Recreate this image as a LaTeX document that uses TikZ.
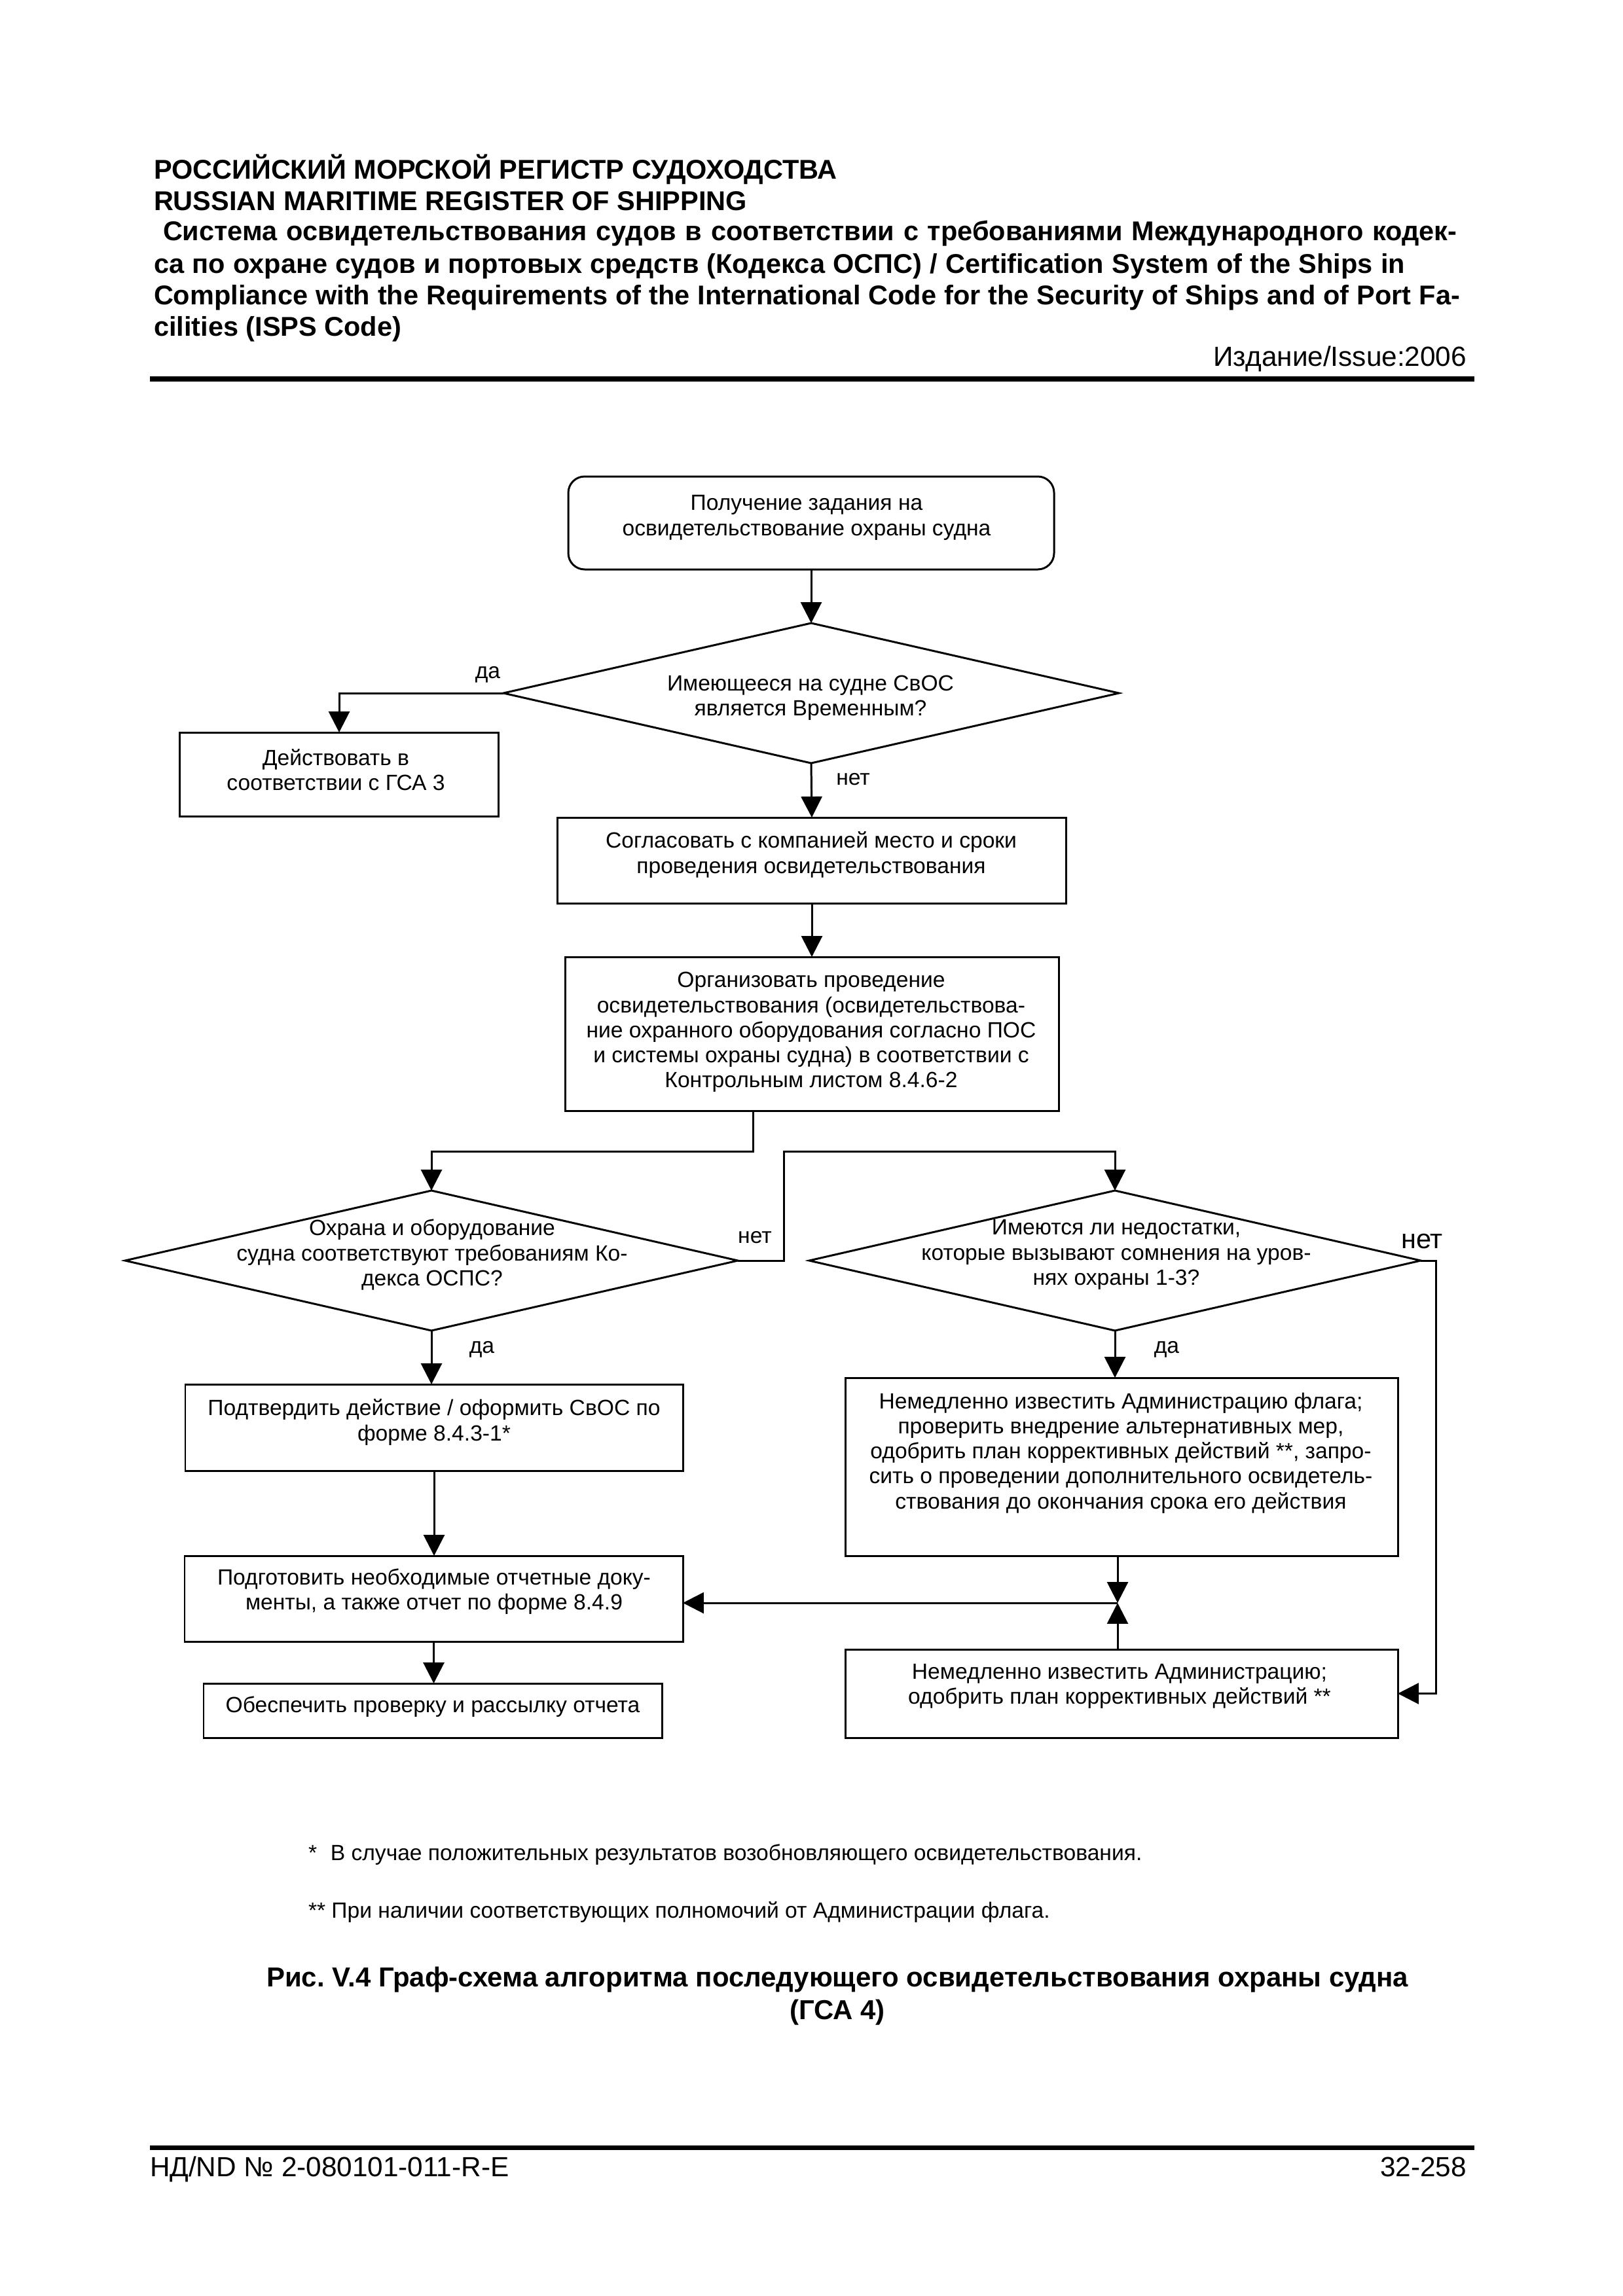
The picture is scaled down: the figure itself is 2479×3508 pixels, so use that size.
\documentclass[tikz,border=0pt]{standalone}
\usepackage{fontspec}
\setmainfont{Liberation Sans}
\usetikzlibrary{arrows.meta,shapes.geometric}
\def\px{0.0847mm}
\newcommand\pxw[1]{\dimexpr 0.0847mm*#1\relax}
\frenchspacing
\begin{document}
\begin{tikzpicture}[x=0.0847mm,y=-0.0847mm,
  every node/.style={inner sep=0pt, outer sep=0pt},
  bx/.style 2 args={draw, line width=0.72pt, rectangle, minimum width=#1*\px, minimum height=#2*\px},
  rbx/.style 2 args={bx={#1}{#2}, rounded corners=6pt},
  dia/.style 2 args={draw, line width=0.72pt, diamond, minimum width=#1*\px, minimum height=#2*\px},
  txt/.style={align=center, font=\fontsize{8.1pt}{9.2pt}\selectfont},
  lbl/.style={font=\fontsize{8.1pt}{9.2pt}\selectfont},
  biglbl/.style={font=\fontsize{10pt}{11pt}\selectfont},
  conn/.style={line width=0.72pt},
  arr/.style={conn, -{Triangle[length=7.7pt,width=7.7pt]}},
  hdr/.style={anchor=base west, font=\fontsize{10pt}{11.6pt}\selectfont\bfseries},
  pg/.style={font=\fontsize{10.2pt}{11.6pt}\selectfont},
  fn/.style={anchor=base west, font=\fontsize{8.1pt}{9.2pt}\selectfont},
  captxt/.style={anchor=base, font=\fontsize{10.1pt}{11.6pt}\selectfont\bfseries},
]
\useasboundingbox (0,0) rectangle (2479,3508);

% header
\node[hdr] (h1) at (235,273) {РОССИЙСКИЙ МОРСКОЙ РЕГИСТР СУДОХОДСТВА};
\node[hdr] (h2) at (235,321) {RUSSIAN MARITIME REGISTER OF SHIPPING};
\node[hdr] (h3) at (249,367) {\makebox[\pxw{1976}][s]{Система освидетельствования судов в соответствии с требованиями Международного кодек-}};
\node[hdr] (h4) at (235,417) {\makebox[\pxw{1911}][s]{са по охране судов и портовых средств (Кодекса ОСПС) / Certification System of the Ships in}};
\node[hdr] (h5) at (235,465) {\makebox[\pxw{1995}][s]{Compliance with the Requirements of the International Code for the Security of Ships and of Port Fa-}};
\node[hdr] (h6) at (235,513) {cilities (ISPS Code)};
\node[pg, anchor=base east] (iss) at (2240,559) {Издание/Issue:2006};
\coordinate (r1a) at (229,579);
\coordinate (r1b) at (2252,579);
\draw[line width=1.85pt] (r1a) -- (r1b);

% shapes
\node[rbx={742}{142}] (s) at (1239,799) {};
\node[dia={940}{214}] (d1) at (1239,1059) {};
\node[bx={487}{128}] (bA) at (518,1183) {};
\node[bx={777}{131}] (b2) at (1240,1314.5) {};
\node[bx={754}{235}] (b3) at (1240,1579.5) {};
\node[dia={936}{214}] (d2) at (659,1926) {};
\node[dia={934}{214}] (d3) at (1703,1926) {};
\node[bx={760}{132}] (bP) at (663,2181) {};
\node[bx={761}{131}] (b6) at (662.5,2442.5) {};
\node[bx={700}{83}] (b7) at (661,2613.5) {};
\node[bx={844}{272}] (b4) at (1713,2241) {};
\node[bx={844}{135}] (b5) at (1713,2587.5) {};

% texts
\node[txt] (ts) at (1232,791) {Получение задания на\\освидетельствование охраны судна};
\node[txt] (td1) at (1238,1066) {Имеющееся на судне СвОС\\является Временным?};
\node[txt] (tA) at (513,1176) {Действовать в\\соответствии с ГСА 3};
\node[txt] (t2) at (1239,1306) {Согласовать с компанией место и сроки\\проведения освидетельствования};
\node[txt] (t3) at (1239,1577) {Организовать проведение\\освидетельствования (освидетельствова-\\ние охранного оборудования согласно ПОС\\и системы охраны судна) в соответствии с\\Контрольным листом 8.4.6-2};
\node[txt] (td2) at (660,1917) {Охрана и оборудование\\судна соответствуют требованиям Ко-\\декса ОСПС?};
\node[txt] (td3) at (1705,1917) {Имеются ли недостатки,\\которые вызывают сомнения на уров-\\нях охраны 1-3?};
\node[txt] (tP) at (663,2173) {Подтвердить действие / оформить СвОС по\\форме 8.4.3-1*};
\node[txt] (t6) at (663,2432) {Подготовить необходимые отчетные доку-\\менты, а также отчет по форме 8.4.9};
\node[txt] (t7) at (661,2608) {Обеспечить проверку и рассылку отчета};
\node[txt] (t4) at (1712,2220) {Немедленно известить Администрацию флага;\\проверить внедрение альтернативных мер,\\одобрить план коррективных действий **, запро-\\сить о проведении дополнительного освидетель-\\ствования до окончания срока его действия};
\node[txt] (t5) at (1710,2576) {Немедленно известить Администрацию;\\одобрить план коррективных действий **};

% labels
\node[lbl] (l1) at (745,1031) {да};
\node[lbl] (l2) at (1303,1191) {нет};
\node[lbl] (l3) at (1153,1891) {нет};
\node[biglbl] (l4) at (2172,1897) {нет};
\node[lbl] (l5) at (736,2062) {да};
\node[lbl] (l6) at (1782,2062) {да};

% junction points
\coordinate (j1) at (1150,1759);
\coordinate (j2) at (1197,1759);
\coordinate (j3) at (2193,1926);
\coordinate (J) at (1707,2449);

% connectors
\draw[arr] (s.south) -- (d1.north);
\draw[arr] (d1.west) -| (bA.north);
\draw[arr] (d1.south) -- (b2.north);
\draw[arr] (b2.south) -- (b3.north);
\draw[arr] (b3.south -| j1) -- (j1) -| (d2.north);
\draw[arr] (d2.east) -| (j2) -| (d3.north);
\draw[arr] (d3.east) -- (j3) |- (b5.east);
\draw[arr] (d3.south) -- (d3.south |- b4.north);
\draw[arr] (b4.south -| J) -- (J);
\draw[arr] (b5.north -| J) -- (J);
\draw[arr] (J) -- (J -| b6.east);
\draw[arr] (d2.south) -- (d2.south |- bP.north);
\draw[arr] (bP.south) -- (bP.south |- b6.north);
\draw[arr] (b6.south) -- (b6.south |- b7.north);

% footnotes and caption
\node[fn] (f1) at (471,2842) {*\hspace{5pt}В случае положительных результатов возобновляющего освидетельствования.};
\node[fn] (f2) at (471,2930) {** При наличии соответствующих полномочий от Администрации флага.};
\node[captxt] (c1) at (1279,3035) {Рис. V.4 Граф-схема алгоритма последующего освидетельствования охраны судна};
\node[captxt] (c2) at (1279,3085) {(ГСА 4)};

% footer
\coordinate (r2a) at (229,3281.5);
\coordinate (r2b) at (2252,3281.5);
\draw[line width=1.6pt] (r2a) -- (r2b);
\node[pg, anchor=base west] (fl) at (229,3325) {НД/ND № 2-080101-011-R-E};
\node[pg, anchor=base east] (fr) at (2240,3325) {32-258};
\end{tikzpicture}
\end{document}
